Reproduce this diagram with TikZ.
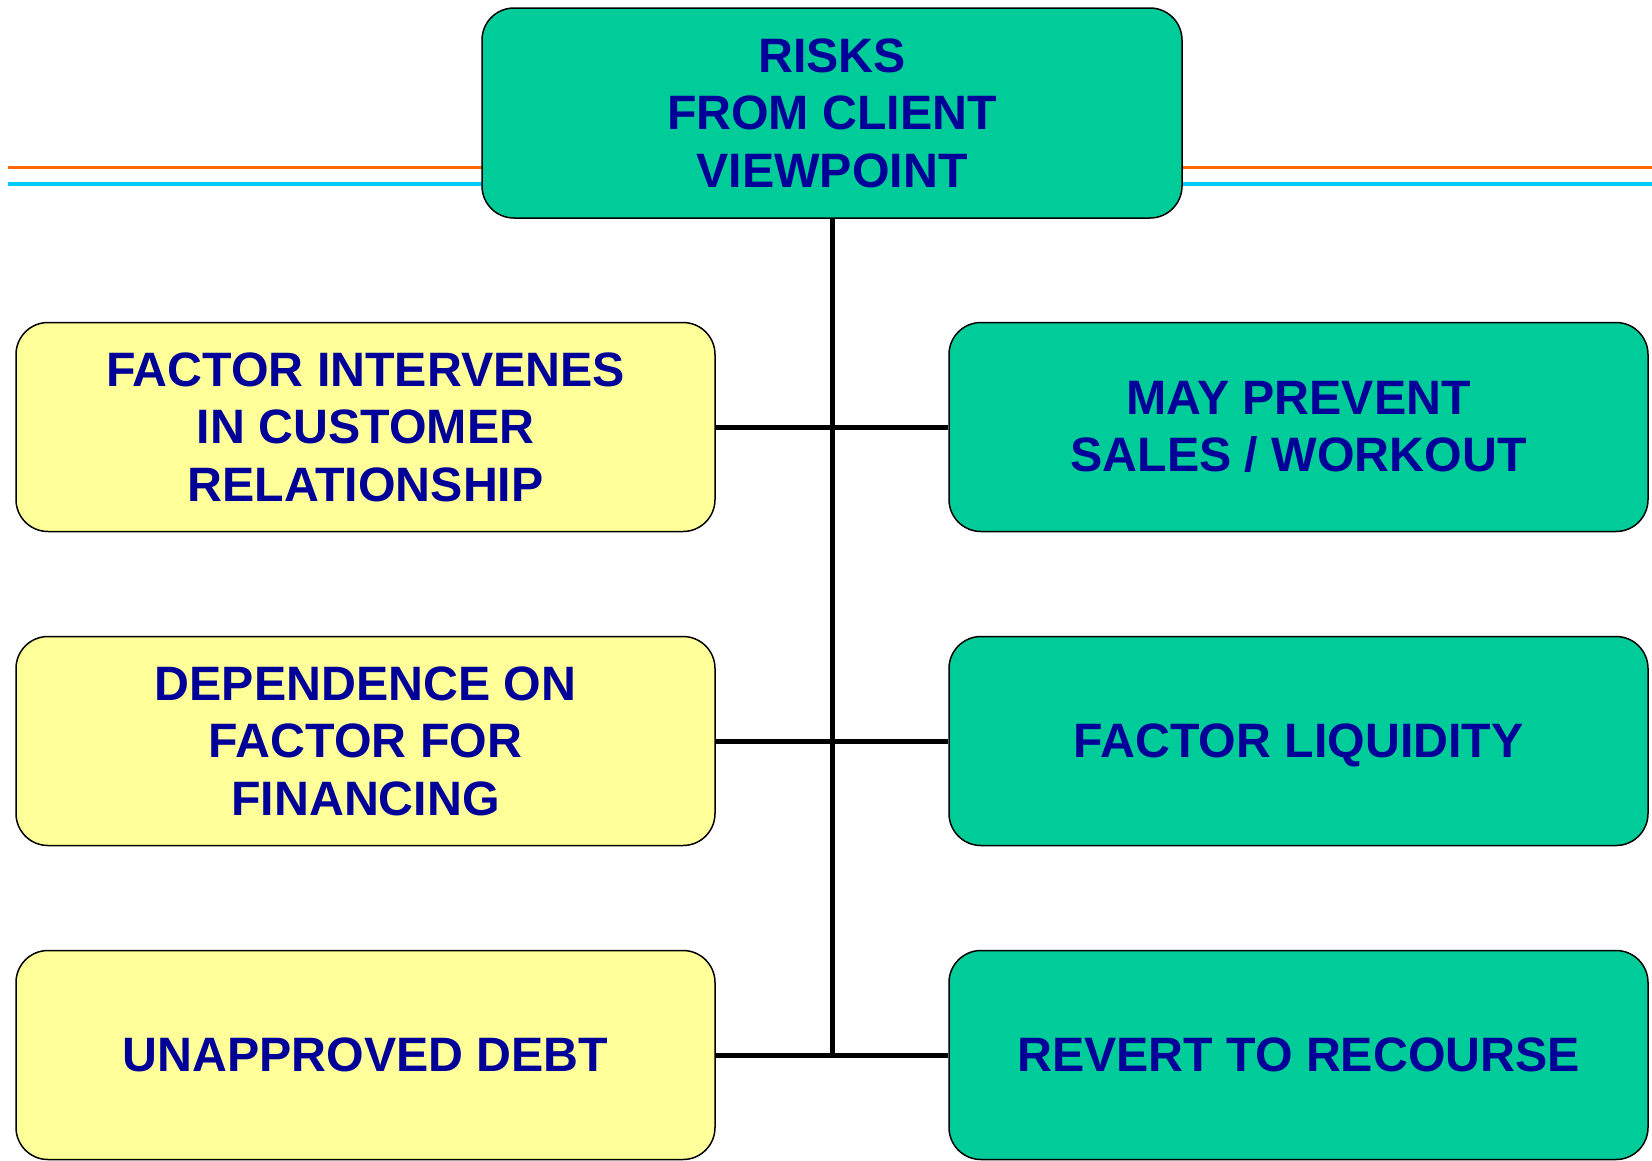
\documentclass[tikz,border=0pt]{standalone}
\usepackage{fontspec}
\setmainfont{Liberation Sans}
\definecolor{teal}{HTML}{00CC99}
\definecolor{paleyellow}{HTML}{FFFF99}
\definecolor{navy}{HTML}{000099}
\definecolor{linorange}{HTML}{FF6600}
\definecolor{lincyan}{HTML}{00CCFF}
\tikzset{
  box/.style={draw=black, line width=1.5pt, rounded corners=32pt,
    minimum width=699pt, minimum height=209pt, align=center,
    text=navy, font=\fontsize{48.3}{57.5}\selectfont\bfseries, inner sep=0pt},
  greenbox/.style={box, fill=teal},
  yellowbox/.style={box, fill=paleyellow},
  conn/.style={draw=black, line width=5pt}
}
\begin{document}
\begin{tikzpicture}[x=1pt,y=-1pt]
\useasboundingbox[fill=white] (0,0) rectangle (1652,1160);
\coordinate (ol) at (8,167.5);
\coordinate (or) at (1652,167.5);
\coordinate (cl) at (8,184);
\coordinate (cr) at (1652,184);
\draw[linorange, line width=3.5pt] (ol) -- (or);
\draw[lincyan, line width=3.5pt] (cl) -- (cr);
\node[greenbox, minimum width=700pt, minimum height=210pt] (top) at (832,113) {RISKS\\FROM CLIENT\\VIEWPOINT};
\node[yellowbox] (l1) at (365.5,427) {FACTOR INTERVENES\\IN CUSTOMER\\RELATIONSHIP};
\node[yellowbox] (l2) at (365.5,741) {DEPENDENCE ON\\FACTOR FOR\\FINANCING};
\node[yellowbox] (l3) at (365.5,1055) {UNAPPROVED DEBT};
\node[greenbox] (r1) at (1298.5,427) {MAY PREVENT\\SALES / WORKOUT};
\node[greenbox] (r2) at (1298.5,741) {FACTOR LI\smash{Q}UIDITY};
\node[greenbox] (r3) at (1298.5,1055) {REVERT TO RECOURSE};
\coordinate (bend) at (top.south |- l3.east);
\draw[conn] (top.south) -- (bend);
\draw[conn] (l1.east) -- (r1.west);
\draw[conn] (l2.east) -- (r2.west);
\draw[conn] (l3.east) -- (r3.west);
\end{tikzpicture}
\end{document}
